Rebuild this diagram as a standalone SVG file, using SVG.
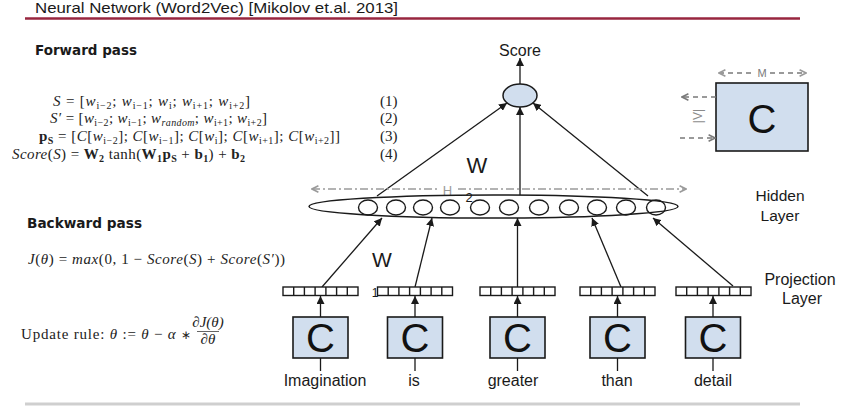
<svg xmlns="http://www.w3.org/2000/svg" width="848" height="417" viewBox="0 0 848 417">
<defs>
<style>
.sans{font-family:"Liberation Sans",Arial,sans-serif;fill:#1a1a1a}
.head{font-family:"DejaVu Sans",Verdana,sans-serif;font-weight:bold;font-size:13.5px;fill:#1a1a1a}
.math{font-family:"Liberation Serif","Times New Roman",serif;font-size:15px;fill:#222}
.it{font-style:italic}
.bf{font-weight:bold}
.sub{font-size:10px}
.edge{stroke:#1a1a1a;stroke-width:1.3;fill:none}
.cbox{fill:#d1deee;stroke:#1a1a1a;stroke-width:1.6}
.vec{fill:#fff;stroke:#1a1a1a;stroke-width:1.4}
.bigc{font-family:"Liberation Sans",Arial,sans-serif;font-size:40px;fill:#111;text-anchor:middle}
.word{font-family:"Liberation Sans",Arial,sans-serif;font-size:16px;fill:#1a1a1a;text-anchor:middle}
.grey{stroke:#7a7a7a;stroke-width:1.6;fill:none}
</style>
<marker id="ah" viewBox="0 0 10 10" refX="10" refY="5" markerWidth="8" markerHeight="8" markerUnits="userSpaceOnUse" orient="auto">
<path d="M0,0 L10,5 L0,10 z" fill="#1a1a1a"/>
</marker>
<marker id="gh" viewBox="0 0 10 10" refX="9" refY="5" markerWidth="8" markerHeight="8" markerUnits="userSpaceOnUse" orient="auto">
<path d="M1,1 L9,5 L1,9" fill="none" stroke="#7a7a7a" stroke-width="2"/>
</marker>
<marker id="gh2" viewBox="0 0 10 10" refX="9" refY="5" markerWidth="8" markerHeight="8" markerUnits="userSpaceOnUse" orient="auto-start-reverse">
<path d="M1,1 L9,5 L1,9" fill="none" stroke="#9a9a9a" stroke-width="2"/>
</marker>
<g id="vecshape">
<rect class="vec" x="0" y="0" width="75" height="8.5"/>
<path class="vec" d="M10.7,0V8.5M21.4,0V8.5M32.1,0V8.5M42.9,0V8.5M53.6,0V8.5M64.3,0V8.5"/>
</g>
</defs>
<rect width="848" height="417" fill="#fff"/>

<!-- header -->
<g id="title">
<text class="sans" x="35" y="12.5" font-size="14.5" textLength="363" lengthAdjust="spacingAndGlyphs">Neural Network (Word2Vec) [Mikolov et.al. 2013]</text>
<line x1="25" y1="18.5" x2="800" y2="18.5" stroke="#98263f" stroke-width="2.5"/>
</g>
<line id="footer" x1="25" y1="404" x2="800" y2="404" stroke="#cfcfcf" stroke-width="3"/>

<!-- formulas -->
<g id="forward">
<text class="head" x="35" y="55" textLength="102" lengthAdjust="spacingAndGlyphs">Forward pass</text>
<text class="math" x="53" y="106" textLength="197" lengthAdjust="spacing"><tspan class="it">S</tspan> = [<tspan class="it">w</tspan><tspan class="sub" dy="3">i−2</tspan><tspan dy="-3">; </tspan><tspan class="it">w</tspan><tspan class="sub" dy="3">i−1</tspan><tspan dy="-3">; </tspan><tspan class="it">w</tspan><tspan class="sub" dy="3">i</tspan><tspan dy="-3">; </tspan><tspan class="it">w</tspan><tspan class="sub" dy="3">i+1</tspan><tspan dy="-3">; </tspan><tspan class="it">w</tspan><tspan class="sub" dy="3">i+2</tspan><tspan dy="-3">]</tspan></text>
<text class="math" x="50" y="123" textLength="217" lengthAdjust="spacing"><tspan class="it">S′</tspan> = [<tspan class="it">w</tspan><tspan class="sub" dy="3">i−2</tspan><tspan dy="-3">; </tspan><tspan class="it">w</tspan><tspan class="sub" dy="3">i−1</tspan><tspan dy="-3">; </tspan><tspan class="it">w</tspan><tspan class="sub it" dy="3">random</tspan><tspan dy="-3">; </tspan><tspan class="it">w</tspan><tspan class="sub" dy="3">i+1</tspan><tspan dy="-3">; </tspan><tspan class="it">w</tspan><tspan class="sub" dy="3">i+2</tspan><tspan dy="-3">]</tspan></text>
<text class="math" x="39" y="141" textLength="301" lengthAdjust="spacing"><tspan class="bf">p</tspan><tspan class="sub bf" dy="3">S</tspan><tspan dy="-3"> = [</tspan><tspan class="it">C</tspan>[<tspan class="it">w</tspan><tspan class="sub" dy="3">i−2</tspan><tspan dy="-3">]; </tspan><tspan class="it">C</tspan>[<tspan class="it">w</tspan><tspan class="sub" dy="3">i−1</tspan><tspan dy="-3">]; </tspan><tspan class="it">C</tspan>[<tspan class="it">w</tspan><tspan class="sub" dy="3">i</tspan><tspan dy="-3">]; </tspan><tspan class="it">C</tspan>[<tspan class="it">w</tspan><tspan class="sub" dy="3">i+1</tspan><tspan dy="-3">]; </tspan><tspan class="it">C</tspan>[<tspan class="it">w</tspan><tspan class="sub" dy="3">i+2</tspan><tspan dy="-3">]]</tspan></text>
<text class="math" x="12" y="159" textLength="233" lengthAdjust="spacing"><tspan class="it">Score</tspan>(<tspan class="it">S</tspan>) = <tspan class="bf">W</tspan><tspan class="sub bf" dy="3">2</tspan><tspan dy="-3"> tanh(</tspan><tspan class="bf">W</tspan><tspan class="sub bf" dy="3">1</tspan><tspan class="bf" dy="-3">p</tspan><tspan class="sub bf" dy="3">S</tspan><tspan dy="-3"> + </tspan><tspan class="bf">b</tspan><tspan class="sub bf" dy="3">1</tspan><tspan dy="-3">) + </tspan><tspan class="bf">b</tspan><tspan class="sub bf" dy="3">2</tspan></text>
<text class="math" x="380" y="106">(1)</text>
<text class="math" x="380" y="123">(2)</text>
<text class="math" x="380" y="141">(3)</text>
<text class="math" x="380" y="159">(4)</text>
</g>

<g id="backward">
<text class="head" x="27" y="228" textLength="115" lengthAdjust="spacingAndGlyphs">Backward pass</text>
<text class="math" x="28" y="264" textLength="257" lengthAdjust="spacing"><tspan class="it">J</tspan>(<tspan class="it">θ</tspan>) = <tspan class="it">max</tspan>(0, 1 − <tspan class="it">Score</tspan>(<tspan class="it">S</tspan>) + <tspan class="it">Score</tspan>(<tspan class="it">S′</tspan>))</text>
<text class="math" x="21" y="339" textLength="170" lengthAdjust="spacing">Update rule: <tspan class="it">θ</tspan> := <tspan class="it">θ</tspan> − <tspan class="it">α</tspan> <tspan font-size="12">∗</tspan></text>
<text class="math it" x="208" y="327" font-size="8.5" text-anchor="middle">∂J(θ)</text>
<line x1="197" y1="331.5" x2="219" y2="331.5" stroke="#222" stroke-width="0.7"/>
<text class="math it" x="208" y="344" font-size="8.5" text-anchor="middle">∂θ</text>
</g>

<!-- connectors -->
<g id="connectors">
<line class="edge" x1="520" y1="84" x2="520" y2="58" marker-end="url(#ah)"/>
<line class="edge" x1="377" y1="196" x2="507" y2="103" marker-end="url(#ah)"/>
<line class="edge" x1="520" y1="195" x2="520" y2="107" marker-end="url(#ah)"/>
<line class="edge" x1="648" y1="196" x2="533" y2="103" marker-end="url(#ah)"/>
<line class="edge" x1="322" y1="287" x2="382" y2="218" marker-end="url(#ah)"/>
<line class="edge" x1="415" y1="287" x2="432" y2="218" marker-end="url(#ah)"/>
<line class="edge" x1="517.5" y1="287" x2="517.5" y2="218" marker-end="url(#ah)"/>
<line class="edge" x1="621" y1="287" x2="592" y2="218" marker-end="url(#ah)"/>
<line class="edge" x1="733" y1="286" x2="653" y2="218" marker-end="url(#ah)"/>
<line class="edge" x1="320.5" y1="317" x2="320.5" y2="296" marker-end="url(#ah)"/>
<line class="edge" x1="415" y1="317" x2="415" y2="296" marker-end="url(#ah)"/>
<line class="edge" x1="517.5" y1="317" x2="517.5" y2="296" marker-end="url(#ah)"/>
<line class="edge" x1="617.5" y1="317" x2="617.5" y2="296" marker-end="url(#ah)"/>
<line class="edge" x1="713" y1="317" x2="713" y2="296" marker-end="url(#ah)"/>
<line class="edge" x1="320.5" y1="358" x2="320.5" y2="371"/>
<line class="edge" x1="415" y1="358" x2="415" y2="371"/>
<line class="edge" x1="517.5" y1="358" x2="517.5" y2="371"/>
<line class="edge" x1="617.5" y1="358" x2="617.5" y2="371"/>
<line class="edge" x1="713" y1="358" x2="713" y2="371"/>
</g>

<!-- score -->
<g id="score">
<text class="sans" x="520" y="56" font-size="16" text-anchor="middle">Score</text>
<ellipse cx="520" cy="95.5" rx="17" ry="11.5" fill="#d1deee" stroke="#1a1a1a" stroke-width="1.5"/>
</g>

<!-- hidden layer -->
<g id="hidden">
<line x1="312" y1="189" x2="437" y2="189" stroke="#9a9a9a" stroke-width="1.5" stroke-dasharray="8 3 2 3" marker-start="url(#gh2)"/>
<line x1="458" y1="189" x2="686" y2="189" stroke="#9a9a9a" stroke-width="1.5" stroke-dasharray="8 3 2 3" marker-end="url(#gh2)"/>
<text x="447.5" y="195" font-family="Liberation Sans, Arial, sans-serif" font-size="13" fill="#9a9a9a" text-anchor="middle">H</text>
<ellipse cx="493.5" cy="206.5" rx="184.5" ry="11.5" fill="none" stroke="#1a1a1a" stroke-width="1.5"/>
<g fill="none" stroke="#1a1a1a" stroke-width="1.4">
<ellipse cx="368" cy="207.5" rx="9.5" ry="7.5"/>
<ellipse cx="396" cy="207.5" rx="9.5" ry="7.5"/>
<ellipse cx="423" cy="207.5" rx="9.5" ry="7.5"/>
<ellipse cx="450" cy="207.5" rx="9.5" ry="7.5"/>
<ellipse cx="480" cy="207.5" rx="9.5" ry="7.5"/>
<ellipse cx="509" cy="207.5" rx="9.5" ry="7.5"/>
<ellipse cx="539" cy="207.5" rx="9.5" ry="7.5"/>
<ellipse cx="569" cy="207.5" rx="9.5" ry="7.5"/>
<ellipse cx="597" cy="207.5" rx="9.5" ry="7.5"/>
<ellipse cx="626" cy="207.5" rx="9.5" ry="7.5"/>
<ellipse cx="656" cy="207.5" rx="9.5" ry="7.5"/>
</g>
<text class="sans" x="780" y="201" font-size="15.5" text-anchor="middle" fill="#333">Hidden</text>
<text class="sans" x="780" y="221" font-size="15.5" text-anchor="middle" fill="#333">Layer</text>
</g>

<g id="weights">
<text class="sans" x="477" y="173" font-size="22" text-anchor="middle">W</text>
<text class="sans" x="469" y="202" font-size="13" text-anchor="middle">2</text>
<text class="sans" x="382" y="267" font-size="21" text-anchor="middle">W</text>
<text class="sans" x="375" y="297" font-size="12" text-anchor="middle">1</text>
</g>

<!-- projection layer -->
<g id="projection">
<use href="#vecshape" x="283" y="287"/>
<use href="#vecshape" x="377.5" y="287"/>
<use href="#vecshape" x="480" y="287"/>
<use href="#vecshape" x="580" y="287"/>
<use href="#vecshape" x="676" y="287"/>
<text class="sans" x="800" y="285" font-size="16" text-anchor="middle" fill="#333">Projection</text>
<text class="sans" x="802" y="304" font-size="16" text-anchor="middle" fill="#333">Layer</text>
</g>

<!-- word nodes -->
<g id="node-imagination">
<rect class="cbox" x="293" y="317" width="55" height="41"/>
<text class="bigc" x="320.5" y="352">C</text>
<text class="word" x="325" y="386">Imagination</text>
</g>
<g id="node-is">
<rect class="cbox" x="387.5" y="317" width="55" height="41"/>
<text class="bigc" x="415" y="352">C</text>
<text class="word" x="414" y="386">is</text>
</g>
<g id="node-greater">
<rect class="cbox" x="490" y="317" width="55" height="41"/>
<text class="bigc" x="517.5" y="352">C</text>
<text class="word" x="513" y="386">greater</text>
</g>
<g id="node-than">
<rect class="cbox" x="590" y="317" width="55" height="41"/>
<text class="bigc" x="617.5" y="352">C</text>
<text class="word" x="617" y="386">than</text>
</g>
<g id="node-detail">
<rect class="cbox" x="685.5" y="317" width="55" height="41"/>
<text class="bigc" x="713" y="352">C</text>
<text class="word" x="713" y="386">detail</text>
</g>

<!-- embedding matrix -->
<g id="matrix">
<rect class="cbox" x="716" y="83" width="92" height="68"/>
<text class="bigc" x="762" y="133" font-size="44">C</text>
<line x1="719" y1="73" x2="754" y2="73" class="grey" stroke-dasharray="5 4" marker-start="url(#gh2)"/>
<line x1="770" y1="73" x2="806" y2="73" class="grey" stroke-dasharray="5 4" marker-end="url(#gh2)"/>
<text x="762" y="77" font-family="Liberation Sans, Arial, sans-serif" font-size="11" fill="#7a7a7a" text-anchor="middle">M</text>
<line x1="716" y1="97" x2="682" y2="97" class="grey" stroke-dasharray="5 4" marker-end="url(#gh)"/>
<line x1="680" y1="138" x2="715" y2="138" class="grey" stroke-dasharray="5 4" marker-end="url(#gh)"/>
<text transform="translate(701.5,116) rotate(-90)" font-family="Liberation Sans, Arial, sans-serif" font-size="12" fill="#8a8a8a" text-anchor="middle">|V|</text>
</g>
</svg>
